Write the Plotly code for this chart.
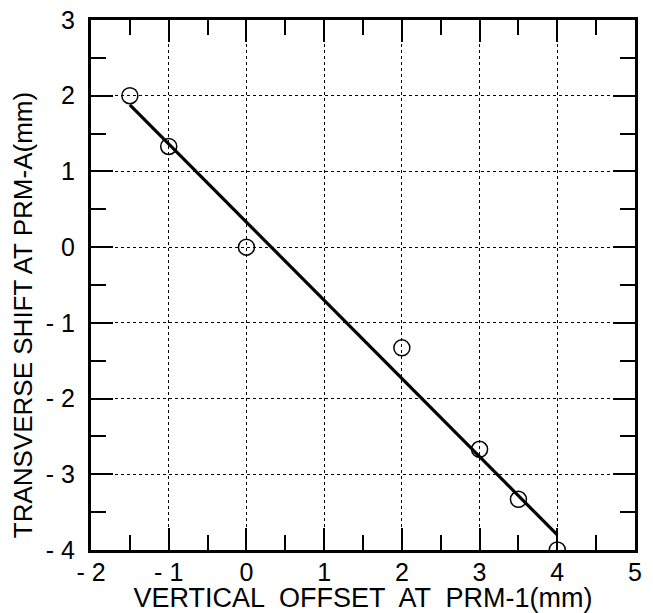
import plotly.graph_objects as go

# measured data points
offset_mm = [-1.5, -1.0, 0.0, 2.0, 3.0, 3.5, 4.0]
shift_mm = [2.0, 1.33, 0.0, -1.33, -2.67, -3.33, -4.0]

# fitted straight line (endpoints)
fit_x = [-1.5, 4.0]
fit_y = [1.88, -3.80]

x_tickvals = [-2, -1, 0, 1, 2, 3, 4, 5]
x_ticktext = ["- 2", "- 1", "0", "1", "2", "3", "4", "5"]
y_tickvals = [-4, -3, -2, -1, 0, 1, 2, 3]
y_ticktext = ["- 4", "- 3", "- 2", "- 1", "0", "1", "2", "3"]

x_title = "VERTICAL  OFFSET  AT  PRM-1(mm)"
y_title = "TRANSVERSE SHIFT AT PRM-A(mm)"

FONT = "Liberation Sans, Arial, Helvetica, sans-serif"

fig = go.Figure()
fig.add_trace(go.Scatter(
    x=fit_x, y=fit_y, mode="lines",
    line=dict(color="black", width=3.2),
    showlegend=False, hoverinfo="skip"))
fig.add_trace(go.Scatter(
    x=offset_mm, y=shift_mm, mode="markers",
    marker=dict(symbol="circle-open", size=16, color="black",
                line=dict(color="black", width=1.5)),
    showlegend=False))

axis_common = dict(
    showline=True, linecolor="black", linewidth=3, mirror="allticks",
    ticks="inside", ticklen=22, tickwidth=2, tickcolor="black",
    showgrid=True, gridcolor="black", gridwidth=1, griddash="dot",
    zeroline=False, automargin=False, ticklabeloverflow="allow",
    minor=dict(dtick=0.5, ticks="inside", ticklen=15, tickwidth=2,
               tickcolor="black", showgrid=False),
    tickfont=dict(family=FONT, size=25, color="black"),
)

fig.update_xaxes(
    range=[-2, 5], tickmode="array", tickvals=x_tickvals, ticktext=x_ticktext,
    ticklabelstandoff=-2,
    title=dict(text=x_title,
               font=dict(family=FONT, size=27, color="black"), standoff=7),
    **axis_common)
fig.update_yaxes(
    range=[-4, 3], tickmode="array", tickvals=y_tickvals, ticktext=y_ticktext,
    ticklabelstandoff=8,
    **axis_common)

fig.add_annotation(
    text=y_title, textangle=-90, showarrow=False,
    xref="paper", yref="paper", x=-0.125, y=0.443,
    xanchor="center", yanchor="middle",
    font=dict(family=FONT, size=26, color="black"))

fig.update_layout(
    width=645, height=605,
    margin=dict(l=83, r=18, t=12, b=63),
    paper_bgcolor="white", plot_bgcolor="white",
    font=dict(family=FONT, color="black"),
)

fig.write_html("out.html")
